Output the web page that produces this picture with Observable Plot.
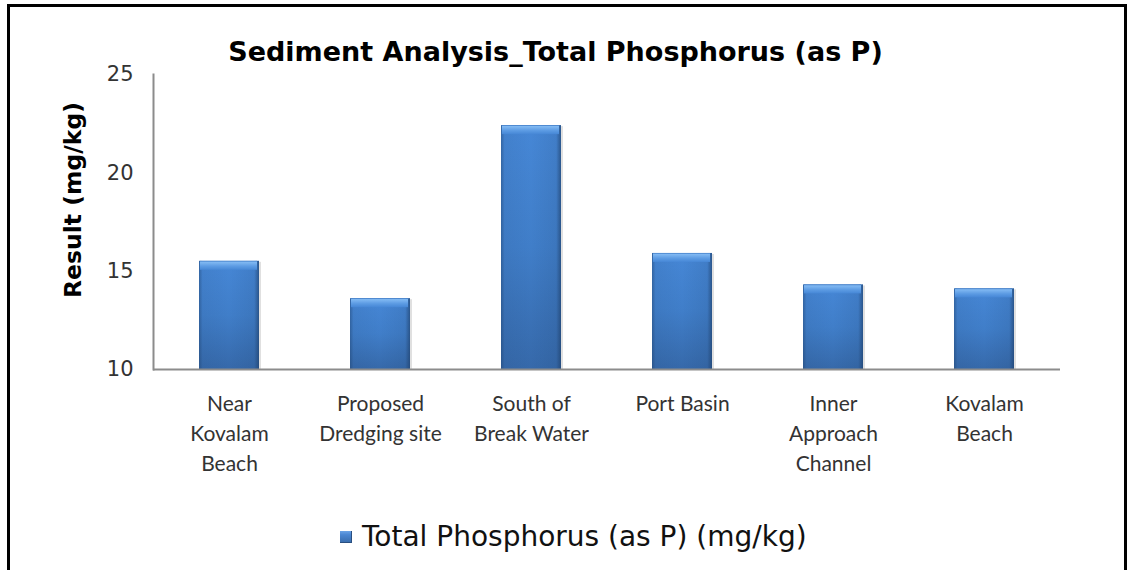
<!DOCTYPE html>
<html><head><meta charset="utf-8">
<script src="https://cdn.jsdelivr.net/npm/d3@7"></script>
<script src="https://cdn.jsdelivr.net/npm/@observablehq/plot@0.6"></script>
<style>
html,body{margin:0;padding:0;background:#fff;}
body{width:1129px;height:570px;overflow:hidden;position:relative;font-family:"DejaVu Sans",Verdana,sans-serif;}
#frame{position:absolute;left:7px;top:4px;width:1120px;height:640px;border:3px solid #000;box-sizing:border-box;pointer-events:none;}
#title{position:absolute;left:0;width:1111px;top:36px;text-align:center;font-weight:bold;font-size:27px;line-height:32px;color:#000;white-space:nowrap;}
#chart{position:absolute;left:0;top:0;}
#legend{position:absolute;left:340px;top:519px;font-size:28px;line-height:36px;color:#111;white-space:nowrap;display:flex;align-items:center;}
#legend .sw{display:inline-block;width:12px;height:12px;margin-right:10px;background:linear-gradient(180deg,#6aa3e6 0%,#4a86d2 35%,#3a6eae 100%);border-right:1px solid #2a4f80;border-bottom:1px solid #2a4f80;box-sizing:border-box;}
</style></head><body>
<div id="chart"></div>
<div id="title"></div>
<div id="legend"></div>
<div id="frame"></div>
<script>
const sites = ["Near Kovalam Beach","Proposed Dredging site","South of Break Water","Port Basin","Inner Approach Channel","Kovalam Beach"];
const siteLabels = ["Near\nKovalam\nBeach","Proposed\nDredging site","South of\nBreak Water","Port Basin","Inner\nApproach\nChannel","Kovalam\nBeach"];
const values = [15.5, 13.6, 22.4, 15.9, 14.3, 14.1];
const yTicks = [10, 15, 20, 25];
const titleText = "Sediment Analysis_Total Phosphorus (as P)";
const yLabel = "Result (mg/kg)";
const seriesName = "Total Phosphorus (as P) (mg/kg)";

const data = sites.map((s, i) => ({site: s, value: values[i]}));
const labelOf = new Map(sites.map((s, i) => [s, siteLabels[i]]));

document.getElementById("title").textContent = titleText;
document.getElementById("legend").innerHTML = '<span class="sw"></span><span></span>';
document.querySelector("#legend span:last-child").textContent = seriesName;

const chart = Plot.plot({
  width: 1129,
  height: 480,
  marginLeft: 153,
  marginRight: 69,
  marginTop: 74,
  marginBottom: 111,
  style: {background: "transparent", fontFamily: "'DejaVu Sans', Verdana, sans-serif", color: "#333"},
  x: {domain: sites, paddingInner: 0.6, paddingOuter: 0.3, label: null},
  y: {domain: [10, 25], label: null},
  marks: [
    // soft shadow
    Plot.barY(data, {x: "site", y1: 10, y2: "value", fill: "#000", fillOpacity: 0.12, dx: 2, dy: 1}),
    // main bar body
    Plot.barY(data, {x: "site", y1: 10, y2: "value", fill: "url(#barV)"}),
    // side bevel shading
    Plot.barY(data, {x: "site", y1: 10, y2: "value", fill: "url(#barH)"}),
    // top bevel highlight
    Plot.barY(data, {x: "site", y1: "value", y2: "value", insetBottom: -9, insetLeft: 1, insetRight: 2, fill: "url(#bevel)"}),
    Plot.ruleY([10], {stroke: "#8c8c8c", strokeWidth: 2}),
    Plot.frame({anchor: "left", stroke: "#8c8c8c", strokeWidth: 2}),
    Plot.axisY({ticks: yTicks, tickSize: 0, tickPadding: 20, fontSize: 21, fill: "#333", label: null}),
    Plot.text([yLabel], {frameAnchor: "left", textAnchor: "middle", rotate: -90, dx: -80, dy: -22, fontSize: 23.5, fontWeight: "bold", fill: "#000"}),
    Plot.axisX({tickSize: 0, tickPadding: 20, fontSize: 21, fontFamily: "Lato, 'Liberation Sans', sans-serif",
      lineHeight: 1.43, fill: "#333", tickFormat: d => labelOf.get(d)})
  ]
});

// gradients for the bevelled bar look
const svg = d3.select(chart);
const defs = svg.insert("defs", ":first-child");
const gv = defs.append("linearGradient").attr("id", "barV").attr("x1", 0).attr("y1", 0).attr("x2", 0).attr("y2", 1);
gv.append("stop").attr("offset", "0%").attr("stop-color", "#4687d6");
gv.append("stop").attr("offset", "50%").attr("stop-color", "#407ec9");
gv.append("stop").attr("offset", "100%").attr("stop-color", "#3669aa");
const gh = defs.append("linearGradient").attr("id", "barH").attr("x1", 0).attr("y1", 0).attr("x2", 1).attr("y2", 0);
gh.append("stop").attr("offset", "0%").attr("stop-color", "#1d3d66").attr("stop-opacity", 0.45);
gh.append("stop").attr("offset", "6%").attr("stop-color", "#1d3d66").attr("stop-opacity", 0.08);
gh.append("stop").attr("offset", "50%").attr("stop-color", "#1d3d66").attr("stop-opacity", 0);
gh.append("stop").attr("offset", "92%").attr("stop-color", "#1d3d66").attr("stop-opacity", 0.12);
gh.append("stop").attr("offset", "100%").attr("stop-color", "#1d3d66").attr("stop-opacity", 0.65);
const gb = defs.append("linearGradient").attr("id", "bevel").attr("x1", 0).attr("y1", 0).attr("x2", 0).attr("y2", 1);
gb.append("stop").attr("offset", "0%").attr("stop-color", "#3b78c4");
gb.append("stop").attr("offset", "15%").attr("stop-color", "#80b8f2");
gb.append("stop").attr("offset", "60%").attr("stop-color", "#5c9be3");
gb.append("stop").attr("offset", "100%").attr("stop-color", "#4687d6");

document.getElementById("chart").appendChild(chart);
</script>
</body></html>
